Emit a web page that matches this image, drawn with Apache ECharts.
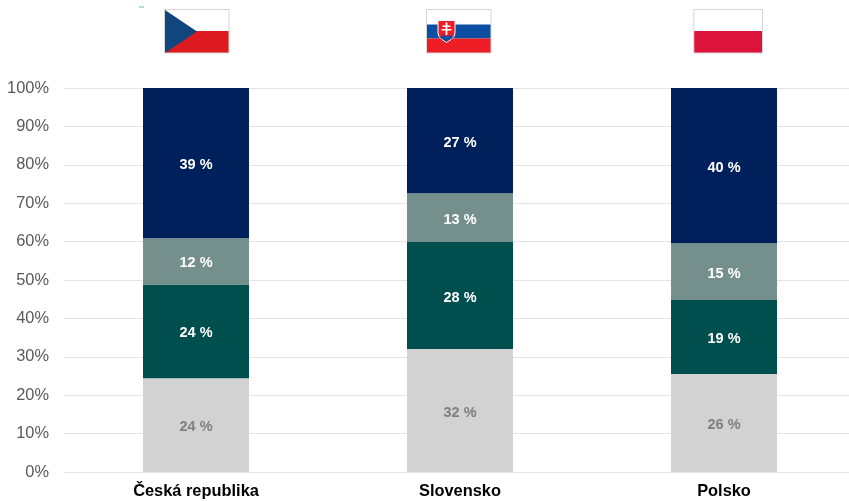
<!DOCTYPE html>
<html>
<head>
<meta charset="utf-8">
<style>
html, body { margin: 0; padding: 0; background: #fff; overflow: hidden; }
#chart { width: 849px; height: 501px; }
</style>
<script src="https://cdn.jsdelivr.net/npm/echarts@6/dist/echarts.min.js"></script>
</head>
<body>
<div id="chart"></div>
<script>
var countries = ['Česká republika', 'Slovensko', 'Polsko'];
var lightGrey = [24.4, 32.0, 25.5];
var darkTeal = [24.4, 27.9, 19.3];
var sage = [12.1, 12.7, 14.8];
var navy = [39.1, 27.4, 40.4];

var myChart = echarts.init(document.getElementById('chart'));
var font = '"Liberation Sans", Arial, sans-serif';

function makeSeries(data, color, labelColor) {
	return {
		type: 'bar',
		stack: 'total',
		barWidth: 106,
		silent: true,
		data: data,
		itemStyle: { color: color },
		label: {
			show: true,
			position: 'inside',
			offset: [0, 2],
			color: labelColor,
			fontFamily: font,
			fontWeight: 'bold',
			fontSize: 14.5,
			formatter: function (p) {
				return Math.round(p.value) + ' %';
			}
		}
	};
}

// flags are drawn by hand, the original has them as pictures
function rect(x, y, w, h, fill, stroke) {
	return { type: 'rect', shape: { x: x, y: y, width: w, height: h }, style: { fill: fill, stroke: stroke || null, lineWidth: stroke ? 1 : 0 } };
}
function poly(points, fill, stroke) {
	return { type: 'polygon', shape: { points: points }, style: { fill: fill, stroke: stroke || null, lineWidth: stroke ? 1 : 0 } };
}
var frame = '#d6d6d6';
var flags = [
	// small speck above the first flag
	rect(139, 6.5, 5, 1, '#6fb5ad'),
	// Czech
	rect(165, 10, 64, 21, '#ffffff'),
	rect(165, 31, 64, 22, '#dc1a1f'),
	poly([[165, 10], [197, 31.5], [165, 53]], '#11457e'),
	rect(164.5, 9.5, 64.5, 43.5, 'none', frame),
	// Slovak
	rect(427, 10, 64, 14.5, '#ffffff'),
	rect(427, 24.5, 64, 14, '#0b4ea2'),
	rect(427, 38.5, 64, 14.5, '#ee1c25'),
	poly([[438, 20.5], [455, 20.5], [455, 33], [454, 36.5], [451, 39.5], [446.5, 42.5], [442, 39.5], [439, 36.5], [438, 33]], '#ee1c25', '#ffffff'),
	rect(445.6, 22.5, 1.8, 12.5, '#ffffff'),
	rect(442.5, 25.5, 8, 1.5, '#ffffff'),
	rect(441.5, 29, 10, 1.5, '#ffffff'),
	poly([[440, 37.5], [442.5, 35], [446.5, 36.5], [450.5, 35], [453, 37.5], [446.5, 41.8]], '#0b4ea2'),
	rect(426.5, 9.5, 64.5, 43.5, 'none', frame),
	// Polish
	rect(694, 10, 68, 21, '#ffffff'),
	rect(694, 31, 68, 22, '#dc143c'),
	rect(693.8, 9.5, 68.7, 43.5, 'none', frame)
];

var option = {
	animation: false,
	grid: { left: 64, right: -7, top: 88, bottom: 29, outerBoundsMode: 'none' },
	xAxis: {
		type: 'category',
		data: countries,
		axisLine: { show: false },
		axisTick: { show: false },
		axisLabel: {
			color: '#000000',
			fontFamily: font,
			fontWeight: 'bold',
			fontSize: 16.4,
			margin: 11
		}
	},
	yAxis: {
		type: 'value',
		min: 0,
		max: 100,
		interval: 10,
		axisLine: { show: false },
		axisTick: { show: false },
		splitLine: { lineStyle: { color: '#e3e3e3', width: 1 } },
		axisLabel: {
			color: '#595959',
			fontFamily: font,
			fontSize: 16.4,
			margin: 15,
			formatter: '{value}%'
		}
	},
	graphic: { elements: flags },
	series: [
		makeSeries(lightGrey, '#d2d2d2', '#7f7f7f'),
		makeSeries(darkTeal, '#004f4f', '#ffffff'),
		makeSeries(sage, '#75908c', '#ffffff'),
		makeSeries(navy, '#00205c', '#ffffff')
	]
};
myChart.setOption(option);
</script>
</body>
</html>
